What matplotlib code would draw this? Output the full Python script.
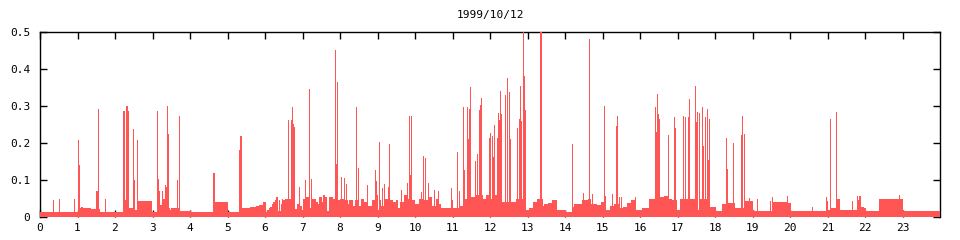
import matplotlib
matplotlib.use('Agg')
import matplotlib.pyplot as plt

# baseline level (step, starts at each hour)
base_hours = [0.00, 1.03, 1.10, 1.15, 1.35, 1.59, 2.25, 2.37, 2.52, 2.60, 2.98,
              3.17, 3.19, 3.21, 3.24, 3.27, 3.33, 3.36, 3.43, 3.46, 3.49, 3.70,
              4.03, 4.65, 5.01, 5.32, 5.34, 5.60, 5.75, 5.85, 5.95, 6.02, 6.06,
              6.10, 6.14, 6.18, 6.22, 6.26, 6.30, 6.34, 6.36, 6.40, 6.42, 6.44,
              6.48, 6.52, 6.76, 6.79, 6.86, 6.90, 6.94, 6.98, 7.02, 7.10, 7.20,
              7.25, 7.35, 7.40, 7.45, 7.52, 7.55, 7.60, 7.65, 7.70, 7.80, 7.95,
              8.00, 8.10, 8.20, 8.25, 8.35, 8.40, 8.50, 8.55, 8.65, 8.75, 8.85,
              8.95, 9.00, 9.05, 9.10, 9.20, 9.30, 9.40, 9.50, 9.55, 9.60, 9.70,
              9.80, 9.92, 10.00, 10.10, 10.20, 10.35, 10.45, 10.55, 10.65, 10.70,
              10.95, 11.00, 11.20, 11.30, 11.50, 11.60, 11.80, 11.90, 12.00,
              12.10, 12.20, 12.55, 12.70, 12.96, 13.05, 13.15, 13.25, 13.40,
              13.45, 13.55, 13.65, 13.78, 14.03, 14.20, 14.25, 14.35, 14.45,
              14.60, 14.70, 14.85, 14.95, 15.10, 15.20, 15.30, 15.45, 15.55,
              15.65, 15.75, 15.90, 16.00, 16.05, 16.23, 16.53, 16.65, 16.75,
              16.85, 16.98, 17.08, 17.35, 17.45, 17.55, 17.60, 17.87, 18.03,
              18.19, 18.33, 18.52, 18.81, 19.02, 19.55, 19.95, 20.03, 21.02,
              21.10, 21.26, 21.33, 21.79, 21.82, 21.85, 21.89, 21.96, 22.03,
              22.37, 23.00, 24.00]
base_values = [0.013, 0.024, 0.026, 0.024, 0.021, 0.013, 0.045, 0.024, 0.018, 0.043, 0.013,
               0.070, 0.060, 0.032, 0.070, 0.050, 0.087, 0.080, 0.024, 0.020, 0.024, 0.016,
               0.013, 0.040, 0.013, 0.048, 0.025, 0.027, 0.030, 0.033, 0.040, 0.013, 0.018,
               0.023, 0.028, 0.034, 0.040, 0.047, 0.055, 0.016, 0.045, 0.016, 0.035, 0.050,
               0.045, 0.050, 0.013, 0.022, 0.035, 0.020, 0.030, 0.020, 0.050, 0.055, 0.025,
               0.050, 0.040, 0.035, 0.055, 0.040, 0.060, 0.055, 0.016, 0.055, 0.050, 0.045,
               0.050, 0.045, 0.035, 0.045, 0.030, 0.045, 0.030, 0.050, 0.040, 0.030, 0.045,
               0.060, 0.020, 0.045, 0.030, 0.050, 0.045, 0.040, 0.045, 0.025, 0.040, 0.060,
               0.050, 0.045, 0.035, 0.050, 0.045, 0.055, 0.030, 0.050, 0.035, 0.025,
               0.045, 0.025, 0.030, 0.050, 0.055, 0.060, 0.050, 0.060, 0.050,
               0.060, 0.040, 0.040, 0.050, 0.018, 0.025, 0.040, 0.050, 0.030,
               0.036, 0.038, 0.045, 0.018, 0.013, 0.028, 0.036, 0.035, 0.045,
               0.050, 0.035, 0.032, 0.040, 0.020, 0.030, 0.035, 0.025, 0.028,
               0.038, 0.045, 0.020, 0.018, 0.025, 0.050, 0.055, 0.058, 0.050,
               0.045, 0.020, 0.050, 0.048, 0.050, 0.020, 0.050, 0.026, 0.015,
               0.035, 0.038, 0.025, 0.042, 0.015, 0.040, 0.038, 0.015, 0.018,
               0.023, 0.050, 0.020, 0.056, 0.045, 0.056, 0.028, 0.025, 0.015,
               0.050, 0.015, 0.015]

# single peaks
spike_hours = [0.36, 0.52, 0.92, 1.02, 1.05, 1.52, 1.55, 1.57, 1.74, 2.24, 2.32, 2.35,
               2.49, 2.51, 2.60, 3.13, 3.16, 3.40, 3.42, 3.66, 3.72, 4.64, 5.31, 5.36,
               6.62, 6.70, 6.73, 6.76, 6.78, 6.92, 7.08, 7.18, 7.24,
               7.88, 7.90, 7.93, 8.04, 8.12, 8.17, 8.44, 8.49, 8.73, 8.94, 8.97, 9.05,
               9.13, 9.18, 9.29, 9.32, 9.64, 9.80, 9.85, 9.88, 9.90, 10.17, 10.22,
               10.29, 10.36, 10.52, 10.62, 10.97, 11.13, 11.18, 11.29, 11.32, 11.40,
               11.42, 11.45, 11.48, 11.61, 11.66, 11.72, 11.74, 11.77, 11.98, 12.01,
               12.06, 12.09, 12.12, 12.20, 12.22, 12.25, 12.28, 12.30, 12.41, 12.46,
               12.52, 12.54, 12.73, 12.78, 12.81, 12.84, 12.89, 12.92, 12.94, 13.36,
               13.38, 14.20, 14.49, 14.65, 14.73, 15.05, 15.08, 15.26, 15.37, 15.40,
               15.45, 15.50, 15.87, 16.41, 16.44, 16.46, 16.49, 16.52, 16.76, 16.92,
               16.94, 17.16, 17.21, 17.29, 17.32, 17.48, 17.50, 17.53, 17.58, 17.66,
               17.68, 17.74, 17.80, 17.82, 17.85, 18.30, 18.33, 18.49, 18.70, 18.73,
               18.78, 18.92, 19.13, 19.48, 19.53, 19.93, 20.60, 20.97, 21.00, 21.08,
               21.24, 21.66, 22.92]
spike_values = [0.045, 0.048, 0.048, 0.208, 0.140, 0.070, 0.292, 0.213, 0.048, 0.287, 0.300, 0.287,
                0.238, 0.100, 0.208, 0.287, 0.104, 0.300, 0.224, 0.100, 0.273, 0.118, 0.180, 0.219,
                0.262, 0.262, 0.296, 0.251, 0.243, 0.081, 0.100, 0.346, 0.102,
                0.452, 0.143, 0.365, 0.108, 0.105, 0.090, 0.296, 0.133, 0.086, 0.127, 0.097, 0.203,
                0.079, 0.089, 0.080, 0.197, 0.072, 0.092, 0.273, 0.113, 0.273, 0.068, 0.165,
                0.160, 0.093, 0.073, 0.071, 0.079, 0.175, 0.070, 0.296, 0.127, 0.296,
                0.212, 0.292, 0.352, 0.152, 0.170, 0.288, 0.304, 0.322, 0.214, 0.228,
                0.220, 0.163, 0.249, 0.214, 0.282, 0.262, 0.341, 0.279, 0.330, 0.376,
                0.339, 0.212, 0.241, 0.265, 0.354, 0.259, 0.520, 0.382, 0.289, 0.520,
                0.520, 0.197, 0.065, 0.482, 0.063, 0.300, 0.056, 0.061, 0.247, 0.273,
                0.054, 0.054, 0.054, 0.296, 0.230, 0.333, 0.278, 0.265, 0.222, 0.270,
                0.241, 0.273, 0.270, 0.270, 0.319, 0.354, 0.258, 0.284, 0.282, 0.296,
                0.193, 0.271, 0.292, 0.154, 0.265, 0.214, 0.130, 0.200, 0.222, 0.273,
                0.224, 0.051, 0.048, 0.042, 0.053, 0.056, 0.026, 0.053, 0.042, 0.265,
                0.284, 0.042, 0.059]

red = '#ff5555'
plt.rcParams['font.family'] = 'DejaVu Sans Mono'

fig = plt.figure(figsize=(9.6, 2.4), dpi=100)
ax = fig.add_axes([40 / 960, 23 / 240, 900 / 960, 185 / 240])

ax.fill_between(base_hours, base_values, step='post', color=red, linewidth=0,
                antialiased=False, zorder=3)
ax.bar(spike_hours, spike_values, width=0.03, color=red, linewidth=0,
       antialiased=False, zorder=3)

ax.set_xlim(0, 24)
ax.set_ylim(0, 0.5)
ax.set_xticks(range(24))
ax.set_xticklabels([str(i) for i in range(24)])
ax.set_yticks([0, 0.1, 0.2, 0.3, 0.4, 0.5])
ax.set_yticklabels(['0', '0.1', '0.2', '0.3', '0.4', '0.5'])
ax.tick_params(axis='both', direction='in', length=5, width=1, labelsize=8,
               top=True, right=True, bottom=True, left=True)
ax.tick_params(axis='x', pad=4)
ax.tick_params(axis='y', pad=7)
ax.spines['bottom'].set_visible(False)
for s in ['top', 'left', 'right']:
    ax.spines[s].set_linewidth(1)

ax.set_title('1999/10/12', fontsize=8, pad=10)

fig.savefig('out.png', dpi=100)
